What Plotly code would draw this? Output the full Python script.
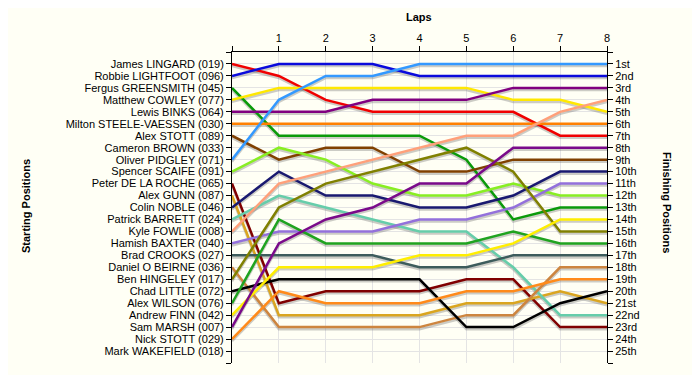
import plotly.graph_objects as go

laps = [0, 1, 2, 3, 4, 5, 6, 7, 8]

start_labels = [
    "James LINGARD (019)", "Robbie LIGHTFOOT (096)", "Fergus GREENSMITH (045)",
    "Matthew COWLEY (077)", "Lewis BINKS (064)", "Milton STEELE-VAESSEN (030)",
    "Alex STOTT (089)", "Cameron BROWN (033)", "Oliver PIDGLEY (071)",
    "Spencer SCAIFE (091)", "Peter DE LA ROCHE (065)", "Alex GUNN (087)",
    "Colin NOBLE (046)", "Patrick BARRETT (024)", "Kyle FOWLIE (008)",
    "Hamish BAXTER (040)", "Brad CROOKS (027)", "Daniel O BEIRNE (036)",
    "Ben HINGELEY (017)", "Chad LITTLE (072)", "Alex WILSON (076)",
    "Andrew FINN (042)", "Sam MARSH (007)", "Nick STOTT (029)",
    "Mark WAKEFIELD (018)",
]

finish_labels = ["1st", "2nd", "3rd"] + [f"{i}th" for i in range(4, 21)] + \
    ["21st", "22nd", "23rd", "24th", "25th"]

# drivers that ran, with their position at each lap (lap 0 = grid)
runners = [
    "James LINGARD", "Robbie LIGHTFOOT", "Fergus GREENSMITH", "Matthew COWLEY",
    "Lewis BINKS", "Milton STEELE-VAESSEN", "Alex STOTT", "Oliver PIDGLEY",
    "Spencer SCAIFE", "Peter DE LA ROCHE", "Alex GUNN", "Colin NOBLE",
    "Patrick BARRETT", "Kyle FOWLIE", "Hamish BAXTER", "Brad CROOKS",
    "Daniel O BEIRNE", "Ben HINGELEY", "Chad LITTLE", "Alex WILSON",
    "Andrew FINN", "Sam MARSH", "Nick STOTT",
]

lap_positions = [
    [1, 2, 4, 5, 5, 5, 5, 7, 7],
    [2, 1, 1, 1, 2, 2, 2, 2, 2],
    [3, 7, 7, 7, 7, 9, 14, 13, 13],
    [4, 3, 3, 3, 3, 3, 4, 4, 5],
    [5, 5, 5, 4, 4, 4, 3, 3, 3],
    [6, 6, 6, 6, 6, 6, 6, 6, 6],
    [7, 9, 8, 8, 10, 10, 9, 9, 9],
    [9, 4, 2, 2, 1, 1, 1, 1, 1],
    [10, 8, 9, 11, 12, 12, 11, 12, 12],
    [11, 21, 20, 20, 20, 19, 19, 23, 23],
    [12, 22, 22, 22, 22, 21, 21, 20, 21],
    [13, 10, 12, 12, 13, 13, 12, 10, 10],
    [14, 12, 13, 14, 15, 15, 18, 22, 22],
    [15, 11, 10, 9, 8, 7, 7, 5, 4],
    [16, 15, 15, 15, 14, 14, 13, 11, 11],
    [17, 17, 17, 17, 18, 18, 17, 17, 17],
    [18, 23, 23, 23, 23, 22, 22, 18, 18],
    [19, 13, 11, 10, 9, 8, 10, 15, 15],
    [20, 19, 19, 19, 19, 23, 23, 21, 20],
    [21, 14, 16, 16, 16, 16, 15, 16, 16],
    [22, 18, 18, 18, 17, 17, 16, 14, 14],
    [23, 16, 14, 13, 11, 11, 8, 8, 8],
    [24, 20, 21, 21, 21, 20, 20, 19, 19],
]

line_colors = [
    "#F00000", "#0A0ADC", "#0A9A0A", "#FFE800", "#800080", "#FF8000",
    "#804000", "#3399FF", "#88EE22", "#800000", "#DAA520", "#191970",
    "#66CDAA", "#FFA07A", "#9370DB", "#3D5C5C", "#CD853F", "#808000",
    "#000000", "#1FA31F", "#FFEE00", "#7A0A8A", "#FF8A1A",
]

FONT = "Liberation Sans, Arial, sans-serif"
BG = "#FFFFF5"

fig = go.Figure()

# shadows
for pos in lap_positions:
    fig.add_trace(go.Scatter(
        x=laps, y=[p + 0.17 for p in pos], mode="lines",
        line=dict(color="rgba(110,110,110,0.35)", width=2.5),
        hoverinfo="skip", showlegend=False))

for name, pos, col in zip(runners, lap_positions, line_colors):
    fig.add_trace(go.Scatter(
        x=laps, y=pos, mode="lines", name=name,
        line=dict(color=col, width=2.5), showlegend=False))

# dummy trace for right axis
fig.add_trace(go.Scatter(x=[0], y=[0], yaxis="y2", mode="markers",
                         marker=dict(opacity=0), hoverinfo="skip", showlegend=False))

ticks = list(range(0, 27))
fig.update_layout(
    width=700, height=375,
    margin=dict(l=224, r=101, t=44, b=20),
    paper_bgcolor=BG, plot_bgcolor=BG,
    font=dict(family=FONT, size=11, color="#000000"),
    xaxis=dict(
        range=[0, 8], side="top", tickvals=laps,
        ticktext=[""] + [str(l) for l in laps[1:]],
        ticks="outside", ticklen=5, tickcolor="#000", showline=True,
        linecolor="#000", linewidth=1, showgrid=True, gridcolor="#E4E4E4",
        zeroline=False, tickfont=dict(size=11), mirror=False,
    ),
    yaxis=dict(
        range=[26, 0], tickvals=ticks,
        ticktext=[""] + start_labels + [""],
        ticks="outside", ticklen=5, tickcolor="#000", showline=True,
        linecolor="#000", linewidth=1, showgrid=True, gridcolor="#E4E4E4",
        zeroline=False, tickfont=dict(size=11),
    ),
    yaxis2=dict(
        range=[26, 0], overlaying="y", side="right", tickvals=ticks,
        ticktext=[""] + finish_labels + [""],
        ticks="outside", ticklen=5, tickcolor="#000", showline=True,
        linecolor="#000", linewidth=1, showgrid=False, zeroline=False,
        tickfont=dict(size=11),
    ),
)

plot_w = 375
plot_h = 311
fig.update_layout(annotations=[
    dict(text="<b>Laps</b>", xref="paper", yref="paper",
         x=(419 - 232) / plot_w, y=(363 - 17) / plot_h,
         xanchor="center", yanchor="middle",
         showarrow=False, font=dict(size=11)),
    dict(text="<b>Starting Positions</b>", xref="paper", yref="paper",
         x=(26 - 232) / plot_w, y=(363 - 206) / plot_h, textangle=-90,
         xanchor="center", yanchor="middle", showarrow=False,
         font=dict(size=11)),
    dict(text="<b>Finishing Positions</b>", xref="paper", yref="paper",
         x=(667 - 232) / plot_w, y=(363 - 202) / plot_h, textangle=90,
         xanchor="center", yanchor="middle", showarrow=False,
         font=dict(size=11)),
])

fig.write_html("out.html")
